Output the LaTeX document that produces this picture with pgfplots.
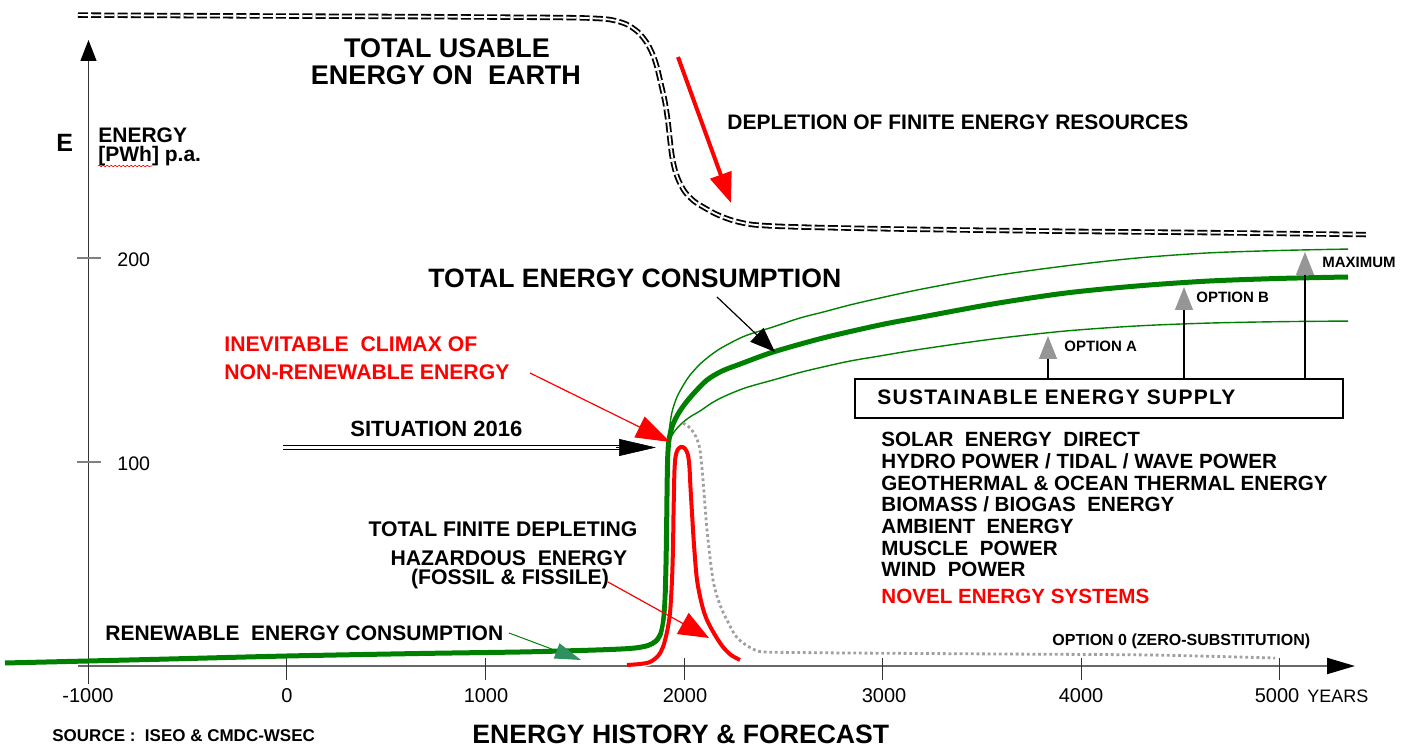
\documentclass[border=0pt]{standalone}
\usepackage{pgfplots}
\pgfplotsset{compat=1.18}
\usepackage{fontspec}
\setmainfont{Liberation Sans}
\usetikzlibrary{arrows.meta,decorations.pathmorphing}
\definecolor{dgreen}{RGB}{0,128,0}
\definecolor{teal2}{RGB}{46,145,95}
\definecolor{arrgray}{RGB}{150,150,150}
\definecolor{dotgray}{RGB}{160,160,160}
\definecolor{axgray}{RGB}{105,105,105}
\newcommand\fs[1]{\fontsize{#1}{#1}\selectfont}
\begin{document}
\begin{tikzpicture}
\begin{axis}[scale only axis, width=702pt, height=374.5pt,
  xmin=-1445.8, xmax=5627.2, ymin=-40.69, ymax=326.5,
  hide axis, clip=false]
\path (rel axis cs:0,0) rectangle (rel axis cs:1,1);
\coordinate (TL) at (rel axis cs:0,1);
% axes
\draw[axgray, line width=1pt, -{Triangle[length=14pt,width=8pt,color=black]}] (axis cs:-1052.9,0) -- (axis cs:5380.4,0);
\draw[black!80, line width=0.6pt, -{Triangle[length=10.5pt,width=8pt,color=black]}] (axis cs:-1000,-8.8) -- (axis cs:-1000,306.9);
\pgfplotsinvokeforeach{0,1000,2000,3000,4000,5000}{\draw[black!80, line width=0.5pt] (axis cs:#1,3.9) -- (axis cs:#1,-7);}
\draw[gray, line width=1pt] (axis cs:-1058,200) -- (axis cs:-937,200);
\draw[gray, line width=1pt] (axis cs:-1058,100) -- (axis cs:-937,100);
% total usable energy on earth
\addplot[black, line width=0.9pt, double=white, double distance=0.9pt, dash pattern=on 5pt off 1.6pt, smooth, tension=0.5] coordinates {
(-1052.9,319.1) (-186.4,318.7) (569.3,318.4) (1073.1,318.1) (1375.3,317.9) (1526.5,317.6) (1627.2,316.9) (1707.8,314.7) (1768.3,310.8) (1813.6,305.4) (1843.8,299.5) (1864.0,293.6) (1884.1,285.3) (1904.3,276.5) (1919.4,266.7) (1929.5,257.8) (1939.6,250.0) (1954.7,243.1) (1974.8,237.7) (2005.0,232.4) (2050.4,227.9) (2105.8,224.5) (2171.3,221.1) (2256.9,218.1) (2362.7,216.2) (2584.4,215.2) (3088.2,214.2) (3843.8,213.2) (4599.5,212.5) (5435.8,211.5)};
% maximum (upper thin)
\addplot[dgreen, line width=0.7pt, smooth, tension=0.5] coordinates {
(1919.4,108.3) (1927.0,116.7) (1939.6,124.5) (1964.7,131.9) (2000.0,138.2) (2030.2,142.6) (2080.6,148.0) (2136.0,152.5) (2196.5,156.4) (2307.3,161.8) (2448.4,166.2) (2584.4,170.6) (2700.3,173.5) (2836.3,177.0) (2987.4,180.4) (3199.0,184.8) (3556.7,191.2) (3919.4,196.1) (4282.1,200.0) (4639.8,202.5) (5002.5,203.7) (5345.1,204.4)};
% option A (lower thin)
\addplot[dgreen, line width=0.7pt, smooth, tension=0.5] coordinates {
(1924.4,110.3) (1949.6,114.7) (1984.9,118.6) (2030.2,122.1) (2080.6,125.0) (2136.0,128.7) (2196.5,131.9) (2307.3,136.3) (2448.4,140.2) (2584.4,143.9) (2700.3,146.6) (2836.3,149.5) (2987.4,152.0) (3199.0,155.4) (3556.7,160.3) (3919.4,164.2) (4282.1,166.7) (4639.8,168.1) (5002.5,168.8) (5345.1,169.1)};
% total energy consumption (thick)
\addplot[dgreen, line width=2.5pt, smooth, tension=0.5] coordinates {
(-1420.7,1.47) (-690.2,3.19) (0,4.90) (670.0,6.13) (1173.8,6.86) (1476.1,7.60) (1652.4,8.19) (1753.2,8.82) (1818.6,10.05) (1858.9,12.25) (1884.1,16.18) (1896.7,22.06) (1904.3,32.35) (1909.3,49.5) (1912.9,71.6) (1915.4,91.2) (1918.4,103.4) (1924.4,110.8) (1939.6,117.2) (1964.7,122.6) (2000.0,127.9) (2050.4,133.8) (2115.9,140.2) (2191.4,144.6) (2282.1,148.0) (2448.4,153.9) (2700.3,160.8) (2987.4,167.2) (3199.0,171.1) (3556.7,177.5) (3919.4,182.8) (4282.1,186.3) (4639.8,188.7) (5002.5,190.0) (5345.1,190.7)};
% option 0 (zero substitution)
\addplot[dotgray, line width=1.4pt, dash pattern=on 1.4pt off 1.4pt, smooth, tension=0.5] coordinates {
(1994.9,119.1) (2030.2,116.7) (2060.5,112.3) (2080.6,105.9) (2095.7,91.2) (2115.9,66.7) (2146.1,42.2) (2181.4,29.9) (2216.6,22.5) (2256.9,15.2) (2297.2,11.3) (2357.7,7.84) (2408.1,6.86) (2584.4,6.6) (2836.3,6.37) (3591.9,5.88) (4347.6,5.39) (4977.3,3.92)};
% non-renewable energy (red)
\addplot[white, line width=3.4pt, smooth, tension=0.5] coordinates {
(1712.9,0.49) (1778.3,0.98) (1828.7,1.96) (1869.0,4.90) (1894.2,9.31) (1914.4,16.7) (1929.5,26.0) (1939.6,42.2) (1944.6,58.3) (1947.1,74.0) (1949.6,86.3) (1952.1,96.1) (1957.2,102.5) (1967.3,105.9) (1984.9,107.4) (2005.0,106.6) (2020.2,103.4) (2027.7,97.1) (2032.8,87.3) (2040.3,75.0) (2050.4,59.3) (2065.5,42.2) (2090.7,29.9) (2115.9,22.5) (2156.1,15.2) (2196.5,9.31) (2236.8,5.39) (2282.1,2.94)};
\addplot[red, line width=2pt, smooth, tension=0.5] coordinates {
(1712.9,0.49) (1778.3,0.98) (1828.7,1.96) (1869.0,4.90) (1894.2,9.31) (1914.4,16.7) (1929.5,26.0) (1939.6,42.2) (1944.6,58.3) (1947.1,74.0) (1949.6,86.3) (1952.1,96.1) (1957.2,102.5) (1967.3,105.9) (1984.9,107.4) (2005.0,106.6) (2020.2,103.4) (2027.7,97.1) (2032.8,87.3) (2040.3,75.0) (2050.4,59.3) (2065.5,42.2) (2090.7,29.9) (2115.9,22.5) (2156.1,15.2) (2196.5,9.31) (2236.8,5.39) (2282.1,2.94)};
\end{axis}
\begin{scope}[shift={(TL)}, x=0.5pt, y=-0.5pt]
% arrows
\draw[red, line width=2pt, -{Triangle[length=15pt,width=11pt]}] (678,57) -- (731,203);
\draw[black, line width=0.6pt, -{Triangle[length=12.5pt,width=9.5pt]}] (717,297) -- (775,352);
\draw[red, line width=0.6pt, -{Triangle[length=17pt,width=11.5pt]}] (530,373) -- (670,442);
\draw[black, line width=0.5pt, double=white, double distance=1.2pt] (283,447.5) -- (622,447.5);
\draw[black, line width=0.3pt, -{Triangle[length=18.5pt,width=8.5pt]}] (616,447.5) -- (656,447.5);
\draw[red, line width=0.6pt, -{Triangle[length=15pt,width=12pt]}] (608,582) -- (709,638);
\draw[dgreen, line width=0.5pt, -{Triangle[length=13pt,width=8pt,color=teal2]}] (509,633) -- (581,660);
\draw[black, line width=0.6pt, -{Triangle[length=11.5pt,width=9pt,color=arrgray]}] (1048,379) -- (1048,336);
\draw[black, line width=0.6pt, -{Triangle[length=11.5pt,width=9pt,color=arrgray]}] (1184,379) -- (1184,287);
\draw[black, line width=0.6pt, -{Triangle[length=11.5pt,width=9pt,color=arrgray]}] (1305,379) -- (1305,252);
\draw[black, line width=0.6pt, fill=white] (855,379) rectangle (1343,418);
\draw[red, line width=0.3pt, decorate, decoration={snake, amplitude=0.4pt, segment length=2pt}] (98,166) -- (152,166);
% texts
\node[anchor=base, inner sep=0, font=\fs{13.5}\bfseries] at (447,58) {TOTAL USABLE};
\node[anchor=base, inner sep=0, font=\fs{13.5}\bfseries] at (446,85) {ENERGY ON\ \ EARTH};
\node[anchor=base west, inner sep=0, font=\fs{10.5}\bfseries] at (727,130) {DEPLETION OF FINITE ENERGY RESOURCES};
\node[anchor=base west, inner sep=0, font=\fs{12.5}\bfseries] at (56,152) {E};
\node[anchor=base west, inner sep=0, font=\fs{10.5}\bfseries] at (98,143) {ENERGY};
\node[anchor=base west, inner sep=0, font=\fs{10.5}\bfseries] at (98,162) {[PWh] p.a.};
\node[anchor=base west, inner sep=0, font=\fs{9.8}] at (117,267) {200};
\node[anchor=base west, inner sep=0, font=\fs{9.8}] at (117,471) {100};
\node[anchor=base west, inner sep=0, font=\fs{13.3}\bfseries] at (428,288) {TOTAL ENERGY CONSUMPTION};
\node[anchor=base west, inner sep=0, font=\fs{10.6}\bfseries, text=red] at (224,352) {INEVITABLE\ \ CLIMAX OF};
\node[anchor=base west, inner sep=0, font=\fs{10.6}\bfseries, text=red] at (224,380) {NON-RENEWABLE ENERGY};
\node[anchor=base west, inner sep=0, font=\fs{11}\bfseries] at (350,437) {SITUATION 2016};
\node[anchor=base, inner sep=0, font=\fs{10.6}\bfseries] at (503,537) {TOTAL FINITE DEPLETING};
\node[anchor=base, inner sep=0, font=\fs{10.6}\bfseries] at (509,566) {HAZARDOUS\ \ ENERGY};
\node[anchor=base, inner sep=0, font=\fs{10.6}\bfseries] at (510,585) {(FOSSIL \& FISSILE)};
\node[anchor=base west, inner sep=0, font=\fs{10.5}\bfseries] at (105,641) {RENEWABLE\ \ ENERGY CONSUMPTION};
\node[anchor=base west, inner sep=0, font=\fs{10.5}\bfseries\addfontfeatures{LetterSpace=6}] at (877,405) {SUSTAINABLE ENERGY SUPPLY};
\node[anchor=base west, inner sep=0, font=\fs{10.3}\bfseries] at (881,447) {SOLAR\ \ ENERGY\ \ DIRECT};
\node[anchor=base west, inner sep=0, font=\fs{10.3}\bfseries] at (881,469) {HYDRO POWER / TIDAL / WAVE POWER};
\node[anchor=base west, inner sep=0, font=\fs{10.3}\bfseries] at (881,491) {GEOTHERMAL \& OCEAN THERMAL ENERGY};
\node[anchor=base west, inner sep=0, font=\fs{10.3}\bfseries] at (881,512) {BIOMASS / BIOGAS\ \ ENERGY};
\node[anchor=base west, inner sep=0, font=\fs{10.3}\bfseries] at (881,534) {AMBIENT\ \ ENERGY};
\node[anchor=base west, inner sep=0, font=\fs{10.3}\bfseries] at (881,556) {MUSCLE\ \ POWER};
\node[anchor=base west, inner sep=0, font=\fs{10.3}\bfseries] at (881,577) {WIND\ \ POWER};
\node[anchor=base west, inner sep=0, font=\fs{10.3}\bfseries, text=red] at (881,604) {NOVEL ENERGY SYSTEMS};
\node[anchor=base west, inner sep=0, font=\fs{7.5}\bfseries] at (1064,352) {OPTION A};
\node[anchor=base west, inner sep=0, font=\fs{7.5}\bfseries] at (1196,303) {OPTION B};
\node[anchor=base west, inner sep=0, font=\fs{7.5}\bfseries] at (1322,268) {MAXIMUM};
\node[anchor=base west, inner sep=0, font=\fs{8}\bfseries] at (1052,646) {OPTION 0 (ZERO-SUBSTITUTION)};
\node[anchor=base, inner sep=0, font=\fs{10}] at (88,703) {-1000};
\node[anchor=base, inner sep=0, font=\fs{10}] at (287,703) {0};
\node[anchor=base, inner sep=0, font=\fs{10}] at (486,703) {1000};
\node[anchor=base, inner sep=0, font=\fs{10}] at (685,703) {2000};
\node[anchor=base, inner sep=0, font=\fs{10}] at (884,703) {3000};
\node[anchor=base, inner sep=0, font=\fs{10}] at (1081,703) {4000};
\node[anchor=base, inner sep=0, font=\fs{10}] at (1277,703) {5000};
\node[anchor=base west, inner sep=0, font=\fs{9}] at (1307,703) {YEARS};
\node[anchor=base west, inner sep=0, font=\fs{8.5}\bfseries] at (52,742) {SOURCE :\ \ ISEO \& CMDC-WSEC};
\node[anchor=base west, inner sep=0, font=\fs{13.3}\bfseries] at (472,744) {ENERGY HISTORY \& FORECAST};
\end{scope}
\end{tikzpicture}
\end{document}
